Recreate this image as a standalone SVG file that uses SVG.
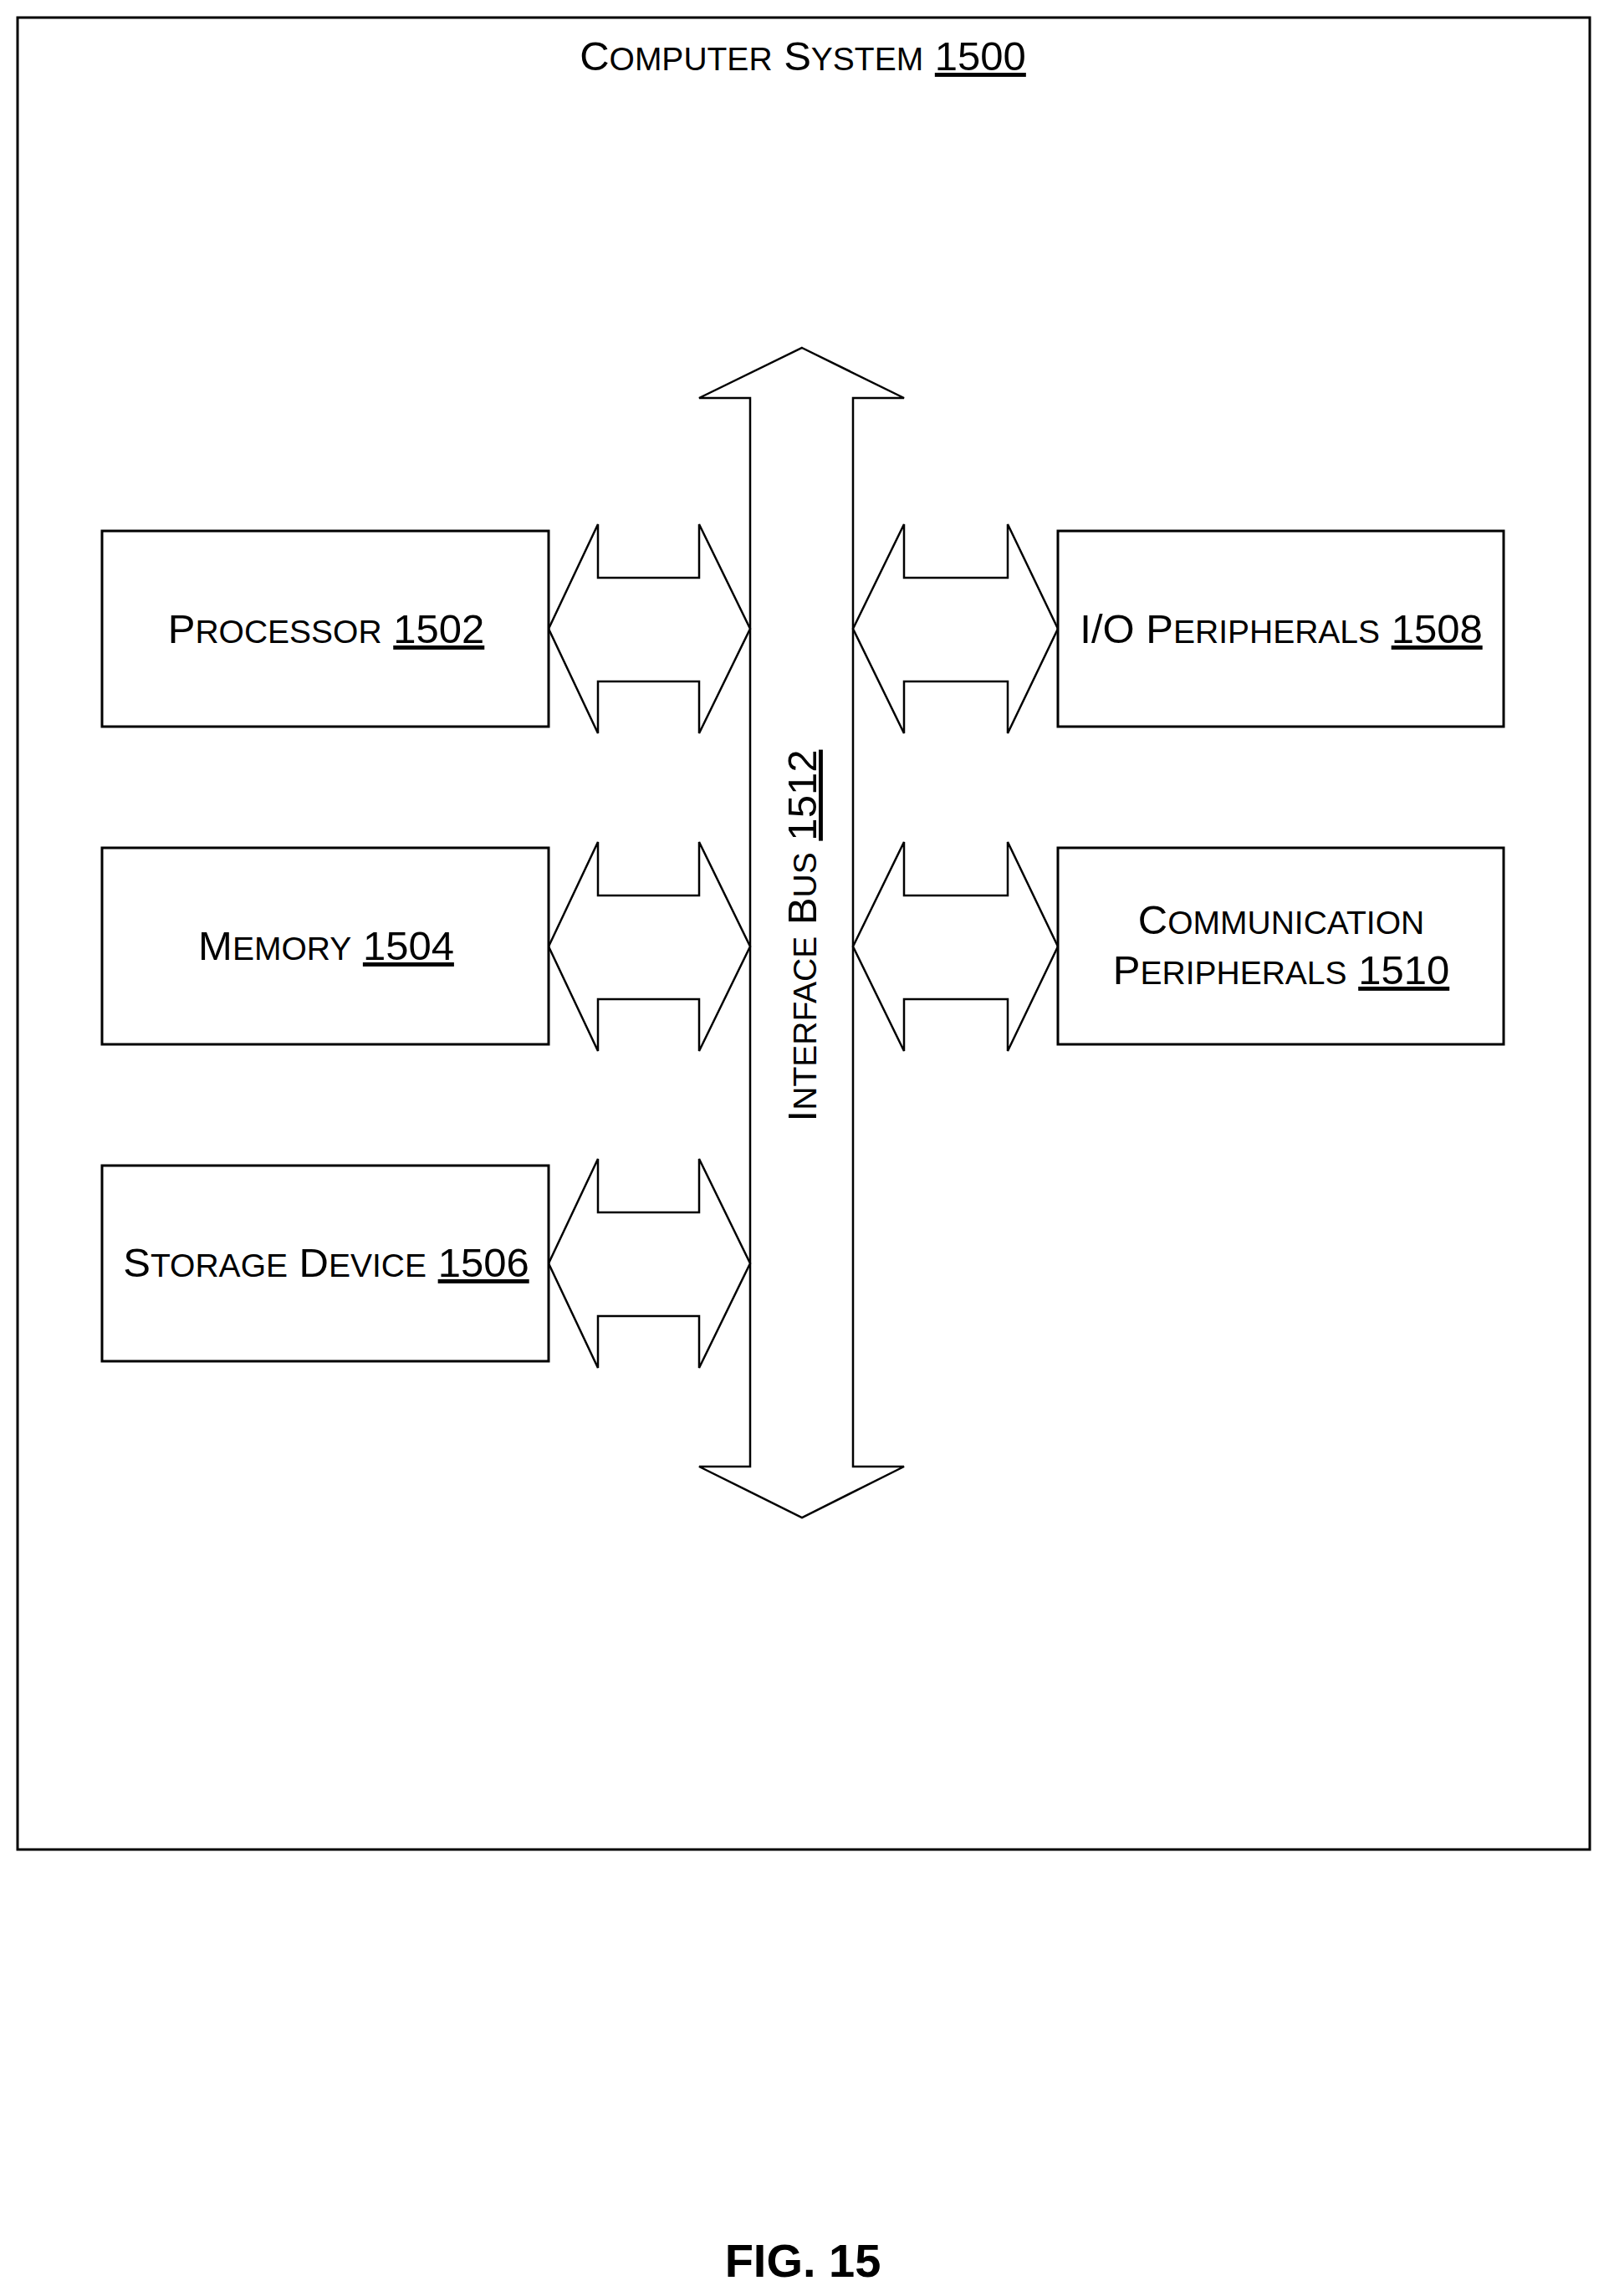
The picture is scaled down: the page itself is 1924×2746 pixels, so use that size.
<svg xmlns="http://www.w3.org/2000/svg" width="1924" height="2746" viewBox="0 0 1924 2746">
<style>
.b{fill:#fff;stroke:#000;stroke-width:3}
.a{fill:#fff;stroke:#000;stroke-width:2.5;stroke-linejoin:miter}
text{font-family:"Liberation Sans",Arial,sans-serif;font-size:49px;fill:#000;text-anchor:middle}
.s{font-size:39px}
.u{text-decoration:underline}
</style>
<rect width="1924" height="2746" fill="#fff"/>
<g id="system"><rect class="b" x="21" y="21" width="1880" height="2191"/>
<text x="960" y="84">C<tspan class="s">OMPUTER</tspan> S<tspan class="s">YSTEM</tspan> <tspan class="u">1500</tspan></text></g>
<g id="connectors">
<path id="bus" class="a" d="M959,416 L1081,476 L1020,476 L1020,1754 L1081,1754 L959,1815 L836,1754 L897,1754 L897,476 L836,476 Z"/>
<path class="a" d="M656,752 L715,627 L715,691 L836,691 L836,627 L897,752 L836,877 L836,815 L715,815 L715,877 Z"/>
<path class="a" d="M656,1132 L715,1007 L715,1071 L836,1071 L836,1007 L897,1132 L836,1257 L836,1195 L715,1195 L715,1257 Z"/>
<path class="a" d="M656,1511 L715,1386 L715,1450 L836,1450 L836,1386 L897,1511 L836,1636 L836,1574 L715,1574 L715,1636 Z"/>
<path class="a" d="M1020,752 L1081,627 L1081,691 L1205,691 L1205,627 L1265,752 L1205,877 L1205,815 L1081,815 L1081,877 Z"/>
<path class="a" d="M1020,1132 L1081,1007 L1081,1071 L1205,1071 L1205,1007 L1265,1132 L1205,1257 L1205,1195 L1081,1195 L1081,1257 Z"/>
<text transform="translate(976,1119) rotate(-90)">I<tspan class="s">NTERFACE</tspan> B<tspan class="s">US</tspan> <tspan class="u">1512</tspan></text>
</g>
<g id="processor"><rect class="b" x="122" y="635" width="534" height="234"/>
<text x="390" y="769">P<tspan class="s">ROCESSOR</tspan> <tspan class="u">1502</tspan></text></g>
<g id="memory"><rect class="b" x="122" y="1014" width="534" height="235"/>
<text x="390" y="1148">M<tspan class="s">EMORY</tspan> <tspan class="u">1504</tspan></text></g>
<g id="storage"><rect class="b" x="122" y="1394" width="534" height="234"/>
<text x="390" y="1527">S<tspan class="s">TORAGE</tspan> D<tspan class="s">EVICE</tspan> <tspan class="u">1506</tspan></text></g>
<g id="io"><rect class="b" x="1265" y="635" width="533" height="234"/>
<text x="1532" y="769">I/O P<tspan class="s">ERIPHERALS</tspan> <tspan class="u">1508</tspan></text></g>
<g id="comm"><rect class="b" x="1265" y="1014" width="533" height="235"/>
<text x="1532" y="1117">C<tspan class="s">OMMUNICATION</tspan></text>
<text x="1532" y="1177">P<tspan class="s">ERIPHERALS</tspan> <tspan class="u">1510</tspan></text></g>
<text x="960" y="2723" style="font-weight:bold;font-size:56px">FIG. 15</text>
</svg>
